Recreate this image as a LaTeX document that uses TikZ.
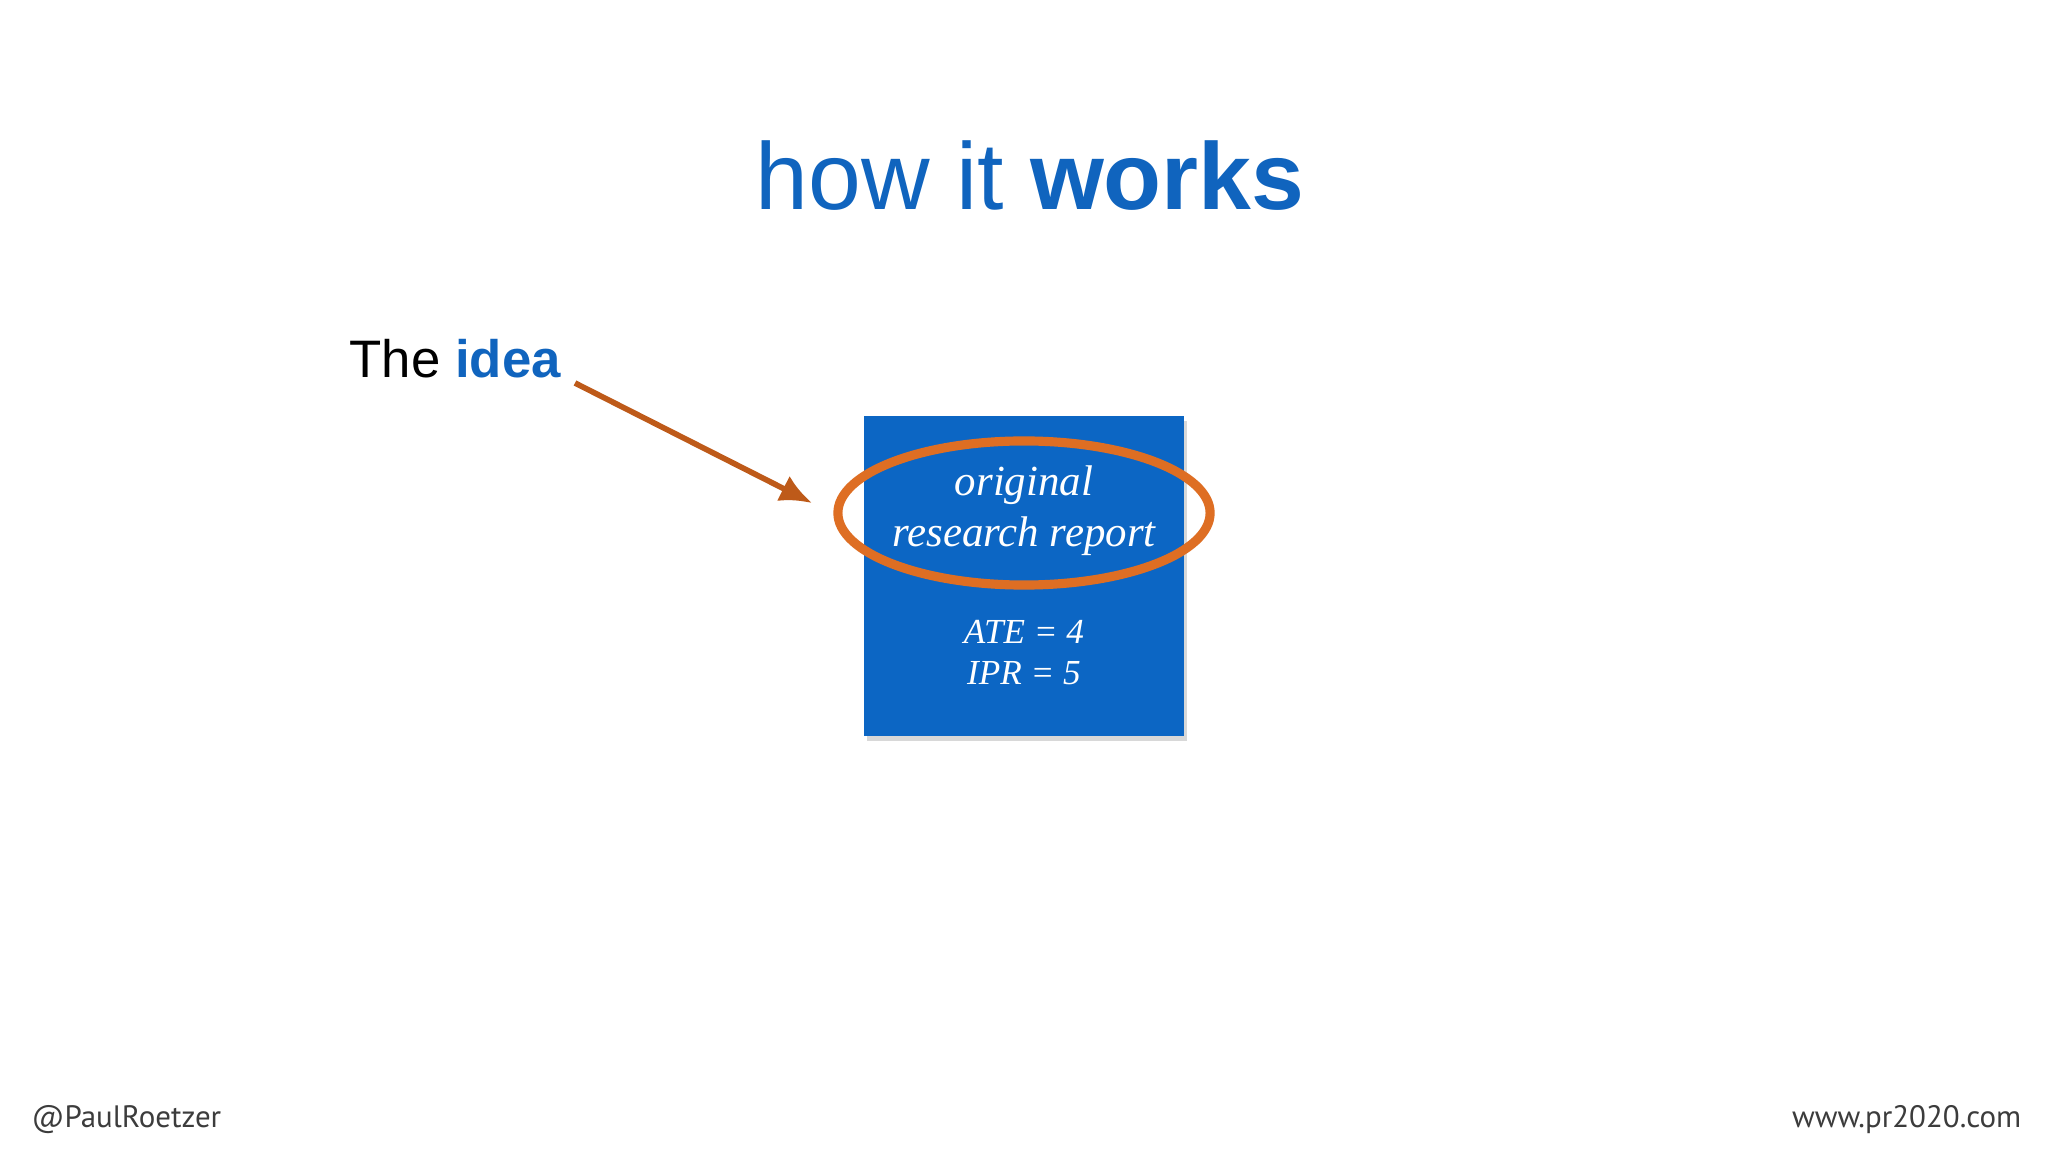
\documentclass[tikz,border=0pt]{standalone}
\usepackage{fontspec}
\setmainfont{Liberation Sans}
\newfontfamily\footfont{PT Sans}
\newfontfamily\handfont{Liberation Serif}
\usetikzlibrary{shadows,arrows.meta,shapes.geometric}
\definecolor{tblue}{RGB}{16,100,190}
\definecolor{boxblue}{RGB}{12,102,196}
\definecolor{rust}{RGB}{190,90,25}
\definecolor{ring}{RGB}{222,110,35}
\definecolor{foot}{RGB}{60,60,60}
\tikzset{handtext/.style={text=white,font=\handfont\itshape,align=center}}
\begin{document}
\begin{tikzpicture}[x=0.01cm,y=-0.01cm]
\useasboundingbox[fill=white] (0,0) rectangle (2048,1152);
\node[anchor=base,text=tblue,font=\fontsize{27}{31}\selectfont] (title) at (1030,210) {how it \textbf{works}};
\node[anchor=base west,inner sep=0pt,font=\fontsize{15}{18}\selectfont] (idea) at (349,378) {The \textcolor{tblue}{\textbf{idea}}};
\node[fill=boxblue,minimum size=3.2cm,inner sep=0pt,drop shadow={opacity=0.3,shadow xshift=0.3mm,shadow yshift=-0.5mm}] (box) at (1024,576) {};
\coordinate (as) at (575,383);
\coordinate (ae) at (812,503);
\draw[rust,line width=1.6pt,-{Latex[length=3.2mm,width=2.8mm]}] (as) -- (ae);
\node[handtext,anchor=base,font=\handfont\itshape\fontsize{12.2}{15}\selectfont] (orig) at (1024,496) {original};
\node[handtext,anchor=base,font=\handfont\itshape\fontsize{12.2}{15}\selectfont] (rr) at (1024,547) {research report};
\node[draw=ring,line width=2.6pt,ellipse,minimum width=3.72cm,minimum height=1.44cm] at (1024,513) {};
\node[handtext,anchor=base,font=\handfont\itshape\fontsize{10}{12}\selectfont] (ate) at (1024,643) {ATE = 4};
\node[handtext,anchor=base,font=\handfont\itshape\fontsize{10}{12}\selectfont] (ipr) at (1024,684) {IPR = 5};
\node[anchor=base west,inner sep=0pt,text=foot,font=\footfont\fontsize{8.8}{11}\selectfont] (tw) at (31,1127) {@PaulRoetzer};
\node[anchor=base east,inner sep=0pt,text=foot,font=\footfont\fontsize{8.8}{11}\selectfont] (www) at (2022,1127) {www.pr2020.com};
\end{tikzpicture}
\end{document}
